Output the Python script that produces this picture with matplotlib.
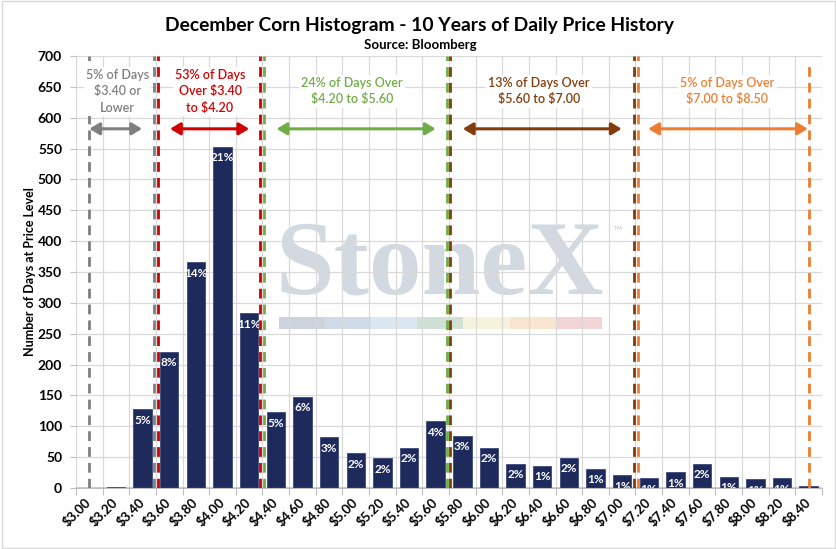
import matplotlib
matplotlib.use("Agg")
import matplotlib.pyplot as plt
from matplotlib.patches import Rectangle, FancyArrowPatch
import numpy as np

plt.rcParams['font.family'] = ['Lato', 'DejaVu Sans']
plt.rcParams['text.parse_math'] = False

# ---- data ----
price_labels = ['$3.00', '$3.20', '$3.40', '$3.60', '$3.80', '$4.00', '$4.20',
                '$4.40', '$4.60', '$4.80', '$5.00', '$5.20', '$5.40', '$5.60',
                '$5.80', '$6.00', '$6.20', '$6.40', '$6.60', '$6.80', '$7.00',
                '$7.20', '$7.40', '$7.60', '$7.80', '$8.00', '$8.20', '$8.40']
days = [0, 2, 128, 221, 366, 553, 283,
        123, 148, 82, 56, 48, 65, 108,
        85, 65, 39, 36, 49, 31, 21,
        16, 26, 39, 18, 14, 16, 3]
pct_labels = ['0%', '0%', '5%', '8%', '14%', '21%', '11%',
              '5%', '6%', '3%', '2%', '2%', '2%', '4%',
              '3%', '2%', '2%', '1%', '2%', '1%', '1%',
              '1%', '1%', '2%', '1%', '1%', '1%', '0%']

range_texts = ['5% of Days\n$3.40 or\nLower',
               '53% of Days\nOver $3.40\nto $4.20',
               '24% of Days Over\n$4.20 to $5.60',
               '13% of Days Over\n$5.60 to $7.00',
               '5% of Days Over\n$7.00 to $8.50']
range_colors = ['#7f7f7f', '#d00000', '#70ad47', '#843c0c', '#ed7d31']
range_left = [0.0, 2.58, 6.57, 13.55, 20.58]
range_right = [2.43, 6.42, 13.43, 20.43, 27.0]
text_x = [1.05, 4.53, 9.85, 16.88, 23.95]
arrow_from = [0.0, 3.03, 7.03, 14.02, 20.98]
arrow_to = [1.98, 6.0, 13.0, 19.98, 26.97]

fig = plt.figure(figsize=(8.37, 5.49), dpi=100)
fig.patch.set_facecolor('white')
ax = fig.add_axes([76/837, 1-488/549, 746/837, 432/549])

x = np.arange(len(days))

# watermark (behind grid)
ax.text(0.488, 0.451, 'StoneX', transform=ax.transAxes, ha='center', va='baseline',
        fontsize=76, fontweight='bold', family='Liberation Serif', color='#d3d9e0', zorder=0.1)
ax.text(0.725, 0.597, '™', transform=ax.transAxes, ha='center', va='center',
        fontsize=9, color='#c8ced6', zorder=0.1)
band_colors = ['#cdd3dc', '#cfdbe8', '#dbe8f1', '#cfe0d5', '#f5f3dc', '#f8e4cf', '#f2d4d6']
bx0, bx1 = 0.272, 0.705
bw = (bx1 - bx0) / len(band_colors)
for i, c in enumerate(band_colors):
    ax.add_patch(Rectangle((bx0 + i*bw, 0.368), bw, 0.028, transform=ax.transAxes,
                           facecolor=c, edgecolor='none', zorder=0.1))

# bars
ax.bar(x, days, width=0.69, color='#1f2a5c', edgecolor='#3c4a7c', linewidth=0.6, zorder=2)
ax.axhline(0, color='#f4b183', lw=1.2, zorder=1.5)

for xi, v, lab in zip(x, days, pct_labels):
    ax.annotate(lab, (xi, v), xytext=(0, -4), textcoords='offset points',
                ha='center', va='top', color='white', fontsize=8.5, fontweight='bold',
                zorder=3, annotation_clip=False, clip_on=True)

# range lines, labels, arrows
for i in range(5):
    c = range_colors[i]
    top_r = 690 if i == 4 else 700
    ax.plot([range_left[i], range_left[i]], [0, 700], color=c, lw=2.0,
            linestyle=(0, (3.5, 2.2)), zorder=4)
    ax.plot([range_right[i], range_right[i]], [0, top_r], color=c, lw=2.0,
            linestyle=(0, (3.5, 2.2)), zorder=4)
    ax.text(text_x[i], 643, range_texts[i], ha='center', va='center', color=c,
            fontsize=9.0, fontweight='semibold', linespacing=1.45, zorder=5,
            bbox=dict(facecolor='white', edgecolor='none', pad=1.5))
    arr = FancyArrowPatch((arrow_from[i], 582), (arrow_to[i], 582),
                          arrowstyle='<|-|>,head_length=5,head_width=3',
                          color=c, lw=2.2, mutation_scale=1.2, zorder=4,
                          shrinkA=0, shrinkB=0)
    ax.add_patch(arr)

# axes styling
ax.set_xlim(-0.5, 27.5)
ax.set_ylim(0, 700)
ax.set_yticks(np.arange(0, 701, 50))
ax.set_xticks(x)
ax.set_xticks(np.arange(-0.5, 27.6, 1.0), minor=True)
ax.set_xticklabels(price_labels, rotation=45, ha='right', va='center',
                   rotation_mode='anchor', fontsize=9.5, fontweight='bold')
for lab in ax.get_yticklabels():
    lab.set_fontweight('bold')
    lab.set_fontsize(10)
ax.tick_params(axis='x', which='major', length=0, pad=9)
ax.tick_params(axis='x', which='minor', length=5, color='#bfbfbf', width=0.8)
ax.tick_params(axis='y', length=4, color='#bfbfbf', width=0.8, pad=6)
ax.grid(axis='y', which='major', color='#d9d9d9', lw=0.9, zorder=0.5)
ax.grid(axis='x', which='minor', color='#d9d9d9', lw=0.9, zorder=0.5)
ax.set_axisbelow(True)
for s in ['left', 'right', 'top']:
    ax.spines[s].set_visible(False)
ax.spines['bottom'].set_color('#bfbfbf')

ax.set_ylabel('Number of Days at Price Level', fontsize=9, fontweight='bold', labelpad=1.5)

fig.text(420/837, 1-25/549, 'December Corn Histogram - 10 Years of Daily Price History',
         ha='center', va='center', fontsize=13.9, fontweight='bold')
fig.text(420/837, 1-45/549, 'Source: Bloomberg', ha='center', va='center',
         fontsize=9.5, fontweight='bold')

fig.add_artist(Rectangle((0.002, 0.002), 0.996, 0.996, transform=fig.transFigure,
                         facecolor='none', edgecolor='#d9d9d9', lw=1.0))

fig.savefig('out.png', dpi=100, facecolor='white')
